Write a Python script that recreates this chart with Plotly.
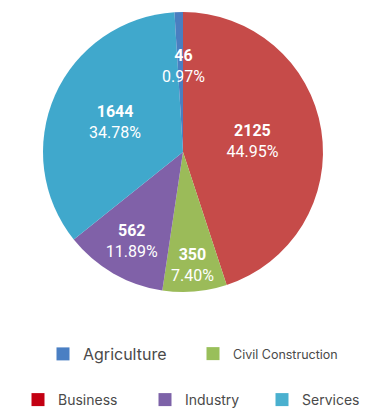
import plotly.graph_objects as go

# ---- data ----
sectors = ["Business", "Civil Construction", "Industry", "Services", "Agriculture"]
values = [2125, 350, 562, 1644, 46]
slice_colors = ["#c64b49", "#9bbb59", "#8061a8", "#40a8cc", "#4a7ec0"]

legend_order = ["Agriculture", "Civil Construction", "Business", "Industry", "Services"]
legend_colors = {"Agriculture": "#4a7fc3", "Civil Construction": "#99bf5a",
                 "Business": "#c30012", "Industry": "#7d62a8", "Services": "#4ab0cf"}
legend_ids = ["legend", "legend2", "legend3", "legend4", "legend5"]

W, H = 366, 416
total = sum(values)

# the tiny Agriculture slice gets its label written above its tip
small = "Agriculture"
templates = ["" if s == small else "<b>%{value}</b><br>%{percent:.2%}" for s in sectors]
si = sectors.index(small)
small_text = f"<b>{values[si]}</b><br>{values[si] / total:.2%}"

fig = go.Figure()
fig.add_trace(go.Pie(
    labels=sectors, values=values, sort=False, direction="clockwise", rotation=0,
    marker=dict(colors=slice_colors, line=dict(width=0)),
    texttemplate=templates,
    textposition="inside", insidetextorientation="horizontal",
    textfont=dict(family="Roboto", size=16, color="white"),
    showlegend=False, hoverinfo="label+value+percent",
    domain=dict(x=[0.0, 1.0], y=[1 - 292 / H, 1 - 12 / H]),
))

for name, lid in zip(legend_order, legend_ids):
    fig.add_trace(go.Scatter(
        x=[None], y=[None], mode="markers", name=name,
        marker=dict(symbol="square", size=13, color=legend_colors[name]),
        legend=lid, showlegend=True,
    ))

fig.add_annotation(
    x=0.5, y=1 - 44 / H, xref="paper", yref="paper", showarrow=False,
    text=small_text, align="center",
    font=dict(family="Roboto", size=16, color="white"),
)

common = dict(xanchor="left", yanchor="middle", bgcolor="rgba(0,0,0,0)")
row2 = dict(xanchor="left", yanchor="bottom", y=0, bgcolor="rgba(0,0,0,0)",
            font=dict(size=14, color="#4a4a4a"))

fig.update_layout(
    width=W, height=H, margin=dict(l=0, r=0, t=0, b=0),
    paper_bgcolor="white", plot_bgcolor="white",
    xaxis=dict(visible=False), yaxis=dict(visible=False),
    font=dict(family="Inter", color="#4a4a4a"),
    legend=dict(x=43 / W, y=1 - 354 / H, font=dict(size=16, color="#4a4a4a"), **common),
    legend2=dict(x=193 / W, y=1 - 354 / H, font=dict(size=12.5, color="#4a4a4a"), **common),
    legend3=dict(x=18 / W, **row2),
    legend4=dict(x=145 / W, **row2),
    legend5=dict(x=262 / W, **row2),
    uniformtext=dict(minsize=15, mode="show"),
)

fig.write_html("out.html")
